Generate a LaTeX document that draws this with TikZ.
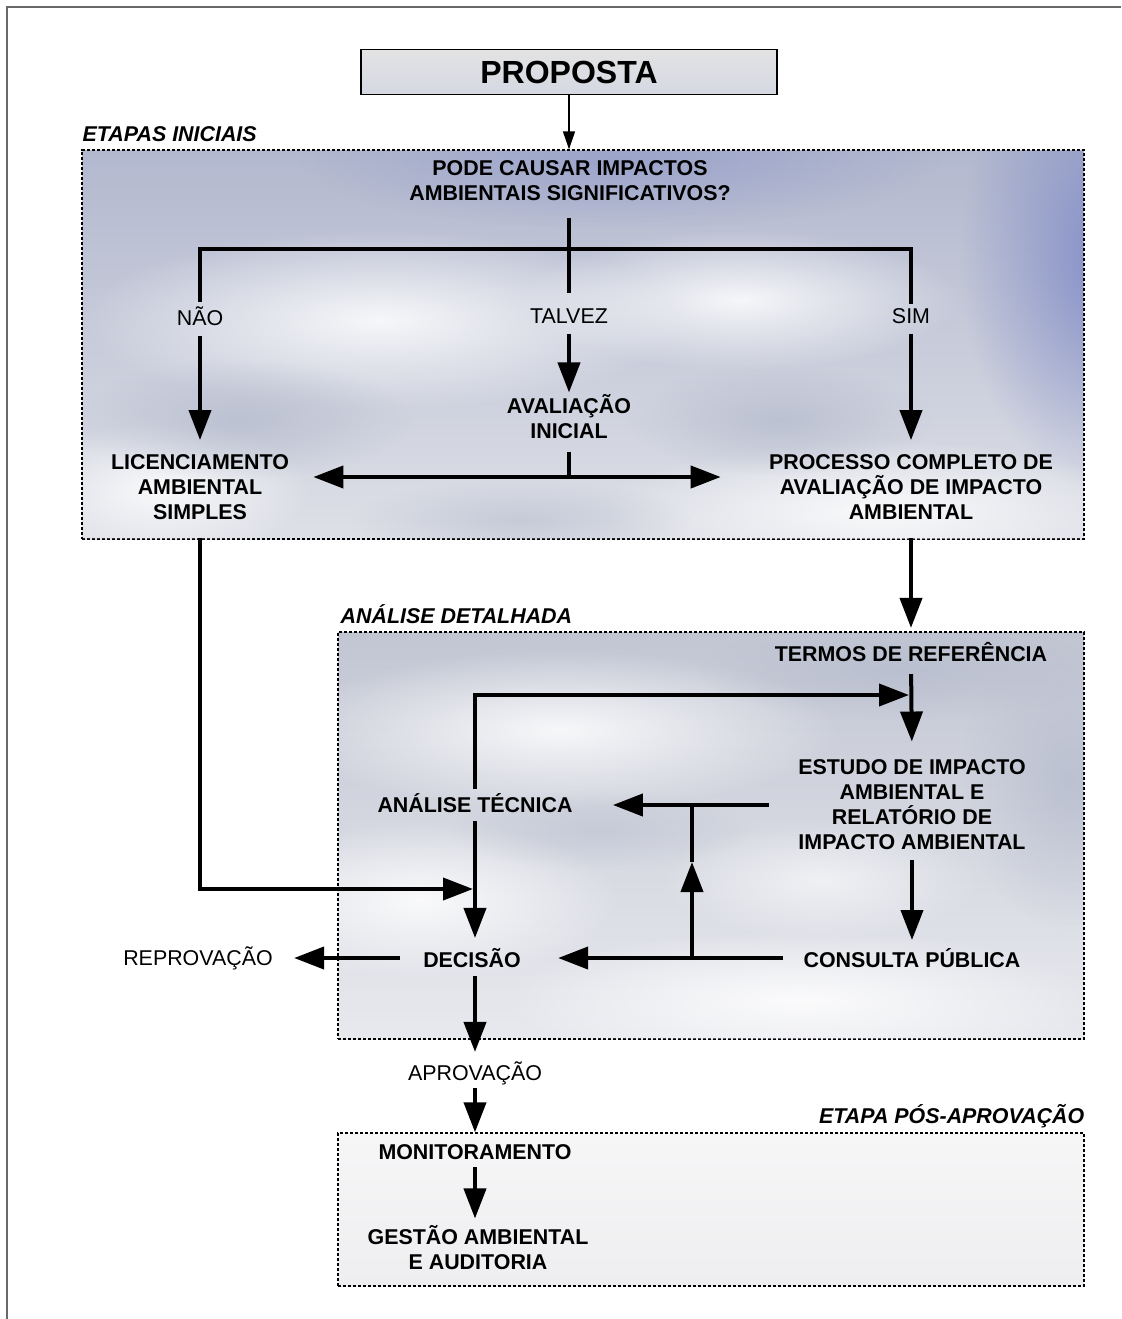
\documentclass[tikz,border=0pt]{standalone}
\usepackage{fontspec}
\setmainfont{Liberation Sans}
\usetikzlibrary{arrows.meta,positioning,calc,fit,fadings}
\definecolor{skytop}{RGB}{178,184,206}
\definecolor{skymid}{RGB}{232,233,238}
\definecolor{skylow}{RGB}{222,224,231}
\definecolor{skyblue}{RGB}{120,132,196}
\definecolor{skygray}{RGB}{184,190,207}
\definecolor{greytop}{RGB}{194,198,211}
\definecolor{greylow}{RGB}{232,233,238}
\definecolor{paletop}{RGB}{246,246,247}
\definecolor{palelow}{RGB}{238,238,240}
\definecolor{framegray}{RGB}{105,105,105}
\tikzfading[name=softpuff, inner color=transparent!0, outer color=transparent!100]
\tikzset{
	lbl/.style={font=\fontsize{10.7}{12.5}\selectfont\bfseries, align=center, inner sep=0pt},
	opt/.style={font=\fontsize{10.7}{12.5}\selectfont, align=center, inner sep=0pt},
	stagelbl/.style={font=\fontsize{10.7}{12.5}\selectfont\bfseries\itshape, inner sep=0pt},
	zone/.style={draw, dash pattern=on 1.6pt off 0.9pt, line width=0.7pt, inner sep=0pt},
	conn/.style={line width=2pt},
	arrow/.style={conn, -{Triangle[length=15pt,width=11pt]}},
	dblarrow/.style={conn, {Triangle[length=15pt,width=11pt]}-{Triangle[length=15pt,width=11pt]}},
	thinarrow/.style={line width=0.75pt, -{Triangle[length=9pt,width=6pt]}},
	puff/.style={fill=white, path fading=softpuff, opacity=0.85}
}
\begin{document}
\begin{tikzpicture}[x=0.5pt, y=-0.5pt]
	\useasboundingbox (0,0) rectangle (1121,1319);
	
	%% -- outer frame
	\draw[framegray, line width=1pt] (1121,7) -- (7,7) -- (7,1319);
	
	%% -- zones
	\coordinate (z1a) at (82,150);
	\coordinate (z1b) at (1084,539);
	\node[zone, fit=(z1a)(z1b), top color=skytop, middle color=skymid,
	bottom color=skylow] (zone1) {};
	\begin{scope}
		\clip ($(z1a)+(1,1)$) rectangle ($(z1b)-(1,1)$);
		\fill[puff, fill=skyblue] (1110,260) ellipse (150 and 230);
		\fill[puff, fill=skyblue, opacity=0.4] (620,160) ellipse (320 and 70);
		\fill[puff] (380,320) ellipse (300 and 90);
		\fill[puff] (740,300) ellipse (220 and 70);
		\fill[puff] (880,510) ellipse (280 and 70);
		\fill[puff] (160,490) ellipse (150 and 70);
		\fill[puff, fill=skygray] (240,420) ellipse (170 and 60);
		\fill[puff, fill=skygray] (780,420) ellipse (150 and 55);
		\fill[puff, fill=skygray, opacity=0.6] (520,520) ellipse (170 and 40);
	\end{scope}
	
	\coordinate (z2a) at (338,632);
	\coordinate (z2b) at (1084,1039);
	\node[zone, fit=(z2a)(z2b), top color=greytop, middle color=skymid,
	bottom color=greylow] (zone2) {};
	\begin{scope}
		\clip ($(z2a)+(1,1)$) rectangle ($(z2b)-(1,1)$);
		\fill[puff] (560,730) ellipse (280 and 80);
		\fill[puff] (420,900) ellipse (200 and 80);
		\fill[puff] (800,1000) ellipse (300 and 70);
		\fill[puff, opacity=0.6] (820,880) ellipse (160 and 60);
		\fill[puff, fill=skygray] (1070,780) ellipse (110 and 150);
		\fill[puff, fill=skygray] (900,670) ellipse (200 and 50);
		\fill[puff, fill=skygray, opacity=0.5] (600,830) ellipse (150 and 40);
	\end{scope}
	
	\coordinate (z3a) at (338,1133);
	\coordinate (z3b) at (1084,1286);
	\node[zone, fit=(z3a)(z3b), top color=paletop, bottom color=palelow] (zone3) {};
	
	\node[stagelbl, above right=3.5pt and 0.5pt of zone1.north west] (inilbl) {ETAPAS INICIAIS};
	\node[stagelbl, above right=3.5pt and 1.5pt of zone2.north west] (detlbl) {ANÁLISE DETALHADA};
	\node[stagelbl, above left=2pt and 0pt of zone3.north east] (poslbl) {ETAPA PÓS-APROVAÇÃO};
	
	%% -- proposal
	\node[draw, line width=0.9pt, minimum width=208pt, minimum height=22.5pt,
	font=\fontsize{16}{19}\selectfont\bfseries,
	top color=gray!22, middle color=white, bottom color=skygray!60] (proposta) at (569,72) {PROPOSTA};
	\draw[thinarrow] (proposta.south) -- (proposta.south |- zone1.north);
	
	%% -- initial stages
	\node[lbl] (quest) at (570,181) {PODE CAUSAR IMPACTOS\\AMBIENTAIS SIGNIFICATIVOS?};
	\node[opt] (nao) at (200,316) {NÃO};
	\node[opt] (talvez) at (569,316) {TALVEZ};
	\node[opt] (sim) at (911,316) {SIM};
	\node[lbl] (aval) at (569,417) {AVALIAÇÃO\\INICIAL};
	\node[lbl] (licenc) at (200,487) {LICENCIAMENTO\\AMBIENTAL\\SIMPLES};
	\node[lbl] (completo) at (911,487) {PROCESSO COMPLETO DE\\AVALIAÇÃO DE IMPACTO\\AMBIENTAL};
	
	\coordinate (split) at (569,249);
	\coordinate (fork) at (569,477);
	\draw[conn, shorten <=8.5pt, shorten >=7.5pt] (talvez.north |- quest.south) -- (talvez.north);
	\draw[conn, shorten <=2pt, shorten >=2pt] (nao.north) |- (split) -| (sim.north);
	\draw[arrow, shorten <=5pt, shorten >=7pt] (nao.south) -- (licenc.north);
	\draw[arrow, shorten <=5pt, shorten >=1pt] (talvez.south) -- (aval.north);
	\draw[arrow, shorten <=5pt, shorten >=7pt] (sim.south) -- (completo.north);
	\draw[conn, shorten <=6pt] (aval.south) -- (fork);
	\draw[dblarrow, shorten <=12pt, shorten >=24pt] (licenc.east |- fork) -- (completo.west |- fork);
	
	%% -- detailed analysis
	\node[lbl] (termos) at (911,652) {TERMOS DE REFERÊNCIA};
	\node[lbl] (estudo) at (912,805) {ESTUDO DE IMPACTO\\AMBIENTAL E\\RELATÓRIO DE\\IMPACTO AMBIENTAL};
	\node[lbl] (tecnica) at (475,803) {ANÁLISE TÉCNICA};
	\node[lbl] (consulta) at (912,958) {CONSULTA PÚBLICA};
	\node[lbl] (decisao) at (472,958) {DECISÃO};
	\node[opt] (reprov) at (198,958) {REPROVAÇÃO};
	
	\coordinate (join) at (911,695);
	\coordinate (merge) at (475,889);
	\coordinate (upfoot) at (692,958);
	\coordinate (upmid) at (692,862);
	\coordinate (upjoin) at (upfoot |- estudo.west);
	
	\draw[arrow, shorten <=9pt, shorten >=7pt] (completo.south) -- (termos.north);
	\draw[arrow, shorten <=9pt, shorten >=1pt] (licenc.south) |- (merge);
	\draw[arrow, shorten <=6pt, shorten >=9pt] (termos.south) -- (estudo.north);
	\draw[arrow, shorten <=2pt, shorten >=1pt] (tecnica.north) |- (join);
	\draw[arrow, shorten <=5pt, shorten >=4pt] (estudo.south) -- (consulta.north);
	\draw[arrow, shorten <=14.5pt, shorten >=20pt] (estudo.west) -- (tecnica.east |- estudo.west);
	\draw[arrow] (upfoot) -- (upmid);
	\draw[conn] (upmid) -- (upjoin);
	\draw[arrow, shorten <=10pt, shorten >=18.5pt] (consulta.west) -- (decisao.east);
	\draw[arrow, shorten <=4pt, shorten >=5pt] (tecnica.south) -- (tecnica.south |- decisao.north);
	\draw[arrow, shorten <=11.5pt, shorten >=10.5pt] (decisao.west) -- (reprov.east);
	
	%% -- post approval
	\node[opt] (aprov) at (475,1073) {APROVAÇÃO};
	\node[lbl] (monit) at (475,1152) {MONITORAMENTO};
	\node[lbl] (gestao) at (478,1248) {GESTÃO AMBIENTAL\\E AUDITORIA};
	
	\draw[arrow, shorten <=4pt, shorten >=4.5pt] (tecnica.south |- decisao.south) -- (aprov.north);
	\draw[arrow, shorten <=1.5pt] (aprov.south) -- (aprov.south |- zone3.north);
	\draw[arrow, shorten <=3.5pt, shorten >=3.5pt] (monit.south) -- (monit.south |- gestao.north);
	
\end{tikzpicture}
\end{document}
